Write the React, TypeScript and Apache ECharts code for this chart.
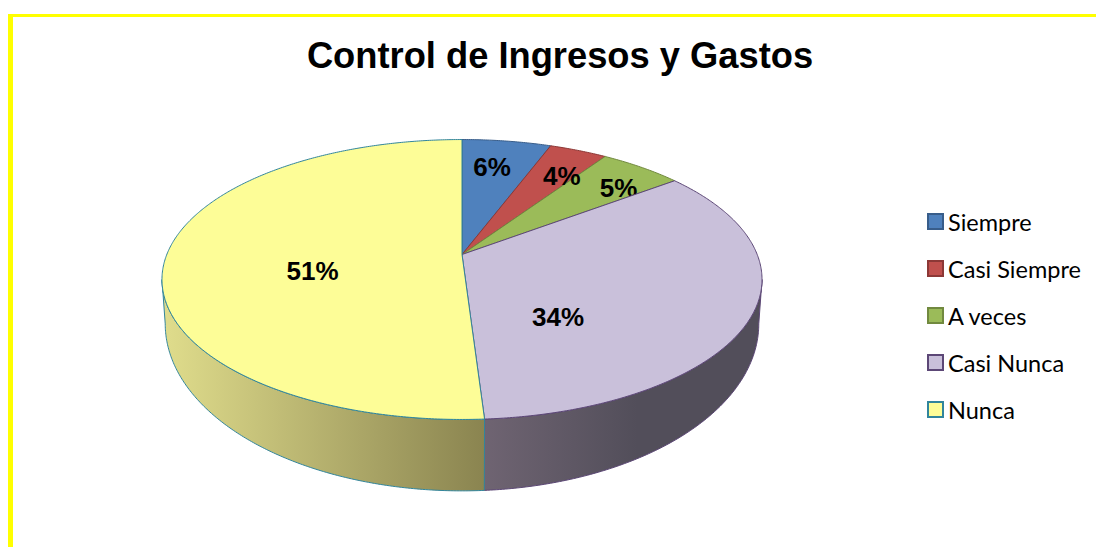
import React, { useEffect, useRef } from "react";
import * as echarts from "echarts";

const categories = ["Siempre", "Casi Siempre", "A veces", "Casi Nunca", "Nunca"];
const shares = [5.7, 3.7, 5.3, 34.3, 51];
const topColors = ["#4f81bd", "#c0504d", "#9bbb59", "#c9c0da", "#fdfd97"];
const edgeColors = ["#385d8a", "#8c3836", "#71893f", "#5c4776", "#31859c"];
const wallShades: string[][] = [[], [], [], ["#6f6472", "#524e5a"], ["#e0dd8c", "#8a8450"]];
const labelReach = [0.74, 0.75, 0.79, 0.52, 0.51];
const labelTurn = [-1.3, 3, 4, 30, -12];

const TITLE = "Control de Ingresos y Gastos";

const CX = 462;
const TILT = 0.1786;
const TOP = { a: 295.2, b: 135.5, y: 254.5 };
const BOTTOM = { a: 292, b: 161.7, y: 294 };
const SIDE_FROM = 100.3;
const SIDE_TO = 259.7;

function project(deg: number, r: number, disc: { a: number; b: number; y: number }) {
  const t = (deg * Math.PI) / 180;
  const u = Math.sin(t) * r;
  const v = Math.cos(t) * r;
  const w = 1 + TILT * v;
  return [CX + (disc.a * u) / w, disc.y - (disc.b * v) / w];
}

function arc(from: number, to: number, disc: typeof TOP) {
  const pts: number[][] = [];
  const steps = Math.max(2, Math.ceil(Math.abs(to - from) * 2));
  for (let i = 0; i <= steps; i++) pts.push(project(from + ((to - from) * i) / steps, 1, disc));
  return pts;
}

function renderSlice(index: number) {
  return (_params: any, api: any) => {
    const share = api.value(0);
    const before = api.value(1);
    const start = (before / 100) * 360;
    const end = ((before + share) / 100) * 360;
    const children: any[] = [];
    const a = Math.max(start, SIDE_FROM);
    const b = Math.min(end, SIDE_TO);
    if (b > a && wallShades[index].length) {
      const top = arc(a, b, TOP);
      const bottom = arc(a, b, BOTTOM).reverse();
      const xs = top.concat(bottom).map((p) => p[0]);
      const lo = Math.min(...xs);
      const hi = Math.max(...xs);
      const [c0, c1] = wallShades[index];
      const rightSide = index === 3;
      children.push({
        type: "polygon",
        shape: { points: top.concat(bottom) },
        style: {
          fill: new echarts.graphic.LinearGradient(
            lo, 0, rightSide ? lo + (hi - lo) * 0.55 : hi, 0,
            [{ offset: 0, color: c0 }, { offset: 1, color: c1 }],
            true
          ),
          stroke: edgeColors[index],
          lineWidth: 1,
        },
      });
    }
    children.push({
      type: "polygon",
      shape: { points: [project(0, 0, TOP), ...arc(start, end, TOP)] },
      style: { fill: topColors[index], stroke: edgeColors[index], lineWidth: 1 },
    });
    const at = project((start + end) / 2 + labelTurn[index], labelReach[index], TOP);
    children.push({
      type: "text",
      x: at[0],
      y: at[1],
      z2: 100,
      style: {
        text: `${Math.round(share)}%`,
        fill: "#000000",
        font: 'bold 26px "Liberation Sans", Arial, sans-serif',
        align: "center",
        verticalAlign: "middle",
      },
    });
    return { type: "group", children };
  };
}

export default function App() {
  const ref = useRef<HTMLDivElement>(null);
  useEffect(() => {
    const chart = echarts.init(ref.current!, undefined, { renderer: "svg" });
    let running = 0;
    const series = categories.map((name, i) => {
      const before = running;
      running += shares[i];
      return {
        type: "custom" as const,
        name,
        coordinateSystem: "none" as const,
        z: i === 4 || i === 3 ? 3 : 2,
        data: [[shares[i], before]],
        renderItem: renderSlice(i),
        silent: true,
        itemStyle: { color: topColors[i], borderColor: edgeColors[i], borderWidth: 1.5 },
      };
    });
    chart.setOption({
      animation: false,
      backgroundColor: "#ffffff",
      title: {
        text: TITLE,
        left: 555,
        top: 32,
        textAlign: "center",
        textStyle: {
          fontFamily: '"Liberation Sans", Arial, sans-serif',
          fontWeight: "bold",
          fontSize: 36.3,
          color: "#000000",
        },
      },
      legend: {
        orient: "vertical",
        left: 927,
        top: 208,
        padding: 0,
        itemWidth: 15,
        itemHeight: 15,
        itemGap: 20,
        icon: "rect",
        data: categories,
        selectedMode: false,
        textStyle: {
          fontFamily: 'Lato, "Noto Sans", sans-serif',
          fontSize: 23.5,
          color: "#000000",
          height: 27,
          lineHeight: 27,
          padding: [0, 0, 0, 0],
        },
      },
      graphic: [
        { type: "rect", shape: { x: 8, y: 14, width: 1088, height: 3 }, style: { fill: "#ffff00" }, silent: true },
        { type: "rect", shape: { x: 8, y: 14, width: 5, height: 533 }, style: { fill: "#ffff00" }, silent: true },
      ],
      series,
    });
    return () => chart.dispose();
  }, []);
  return <div ref={ref} style={{ position: "absolute", left: 0, top: 0, width: 1096, height: 547 }} />;
}
